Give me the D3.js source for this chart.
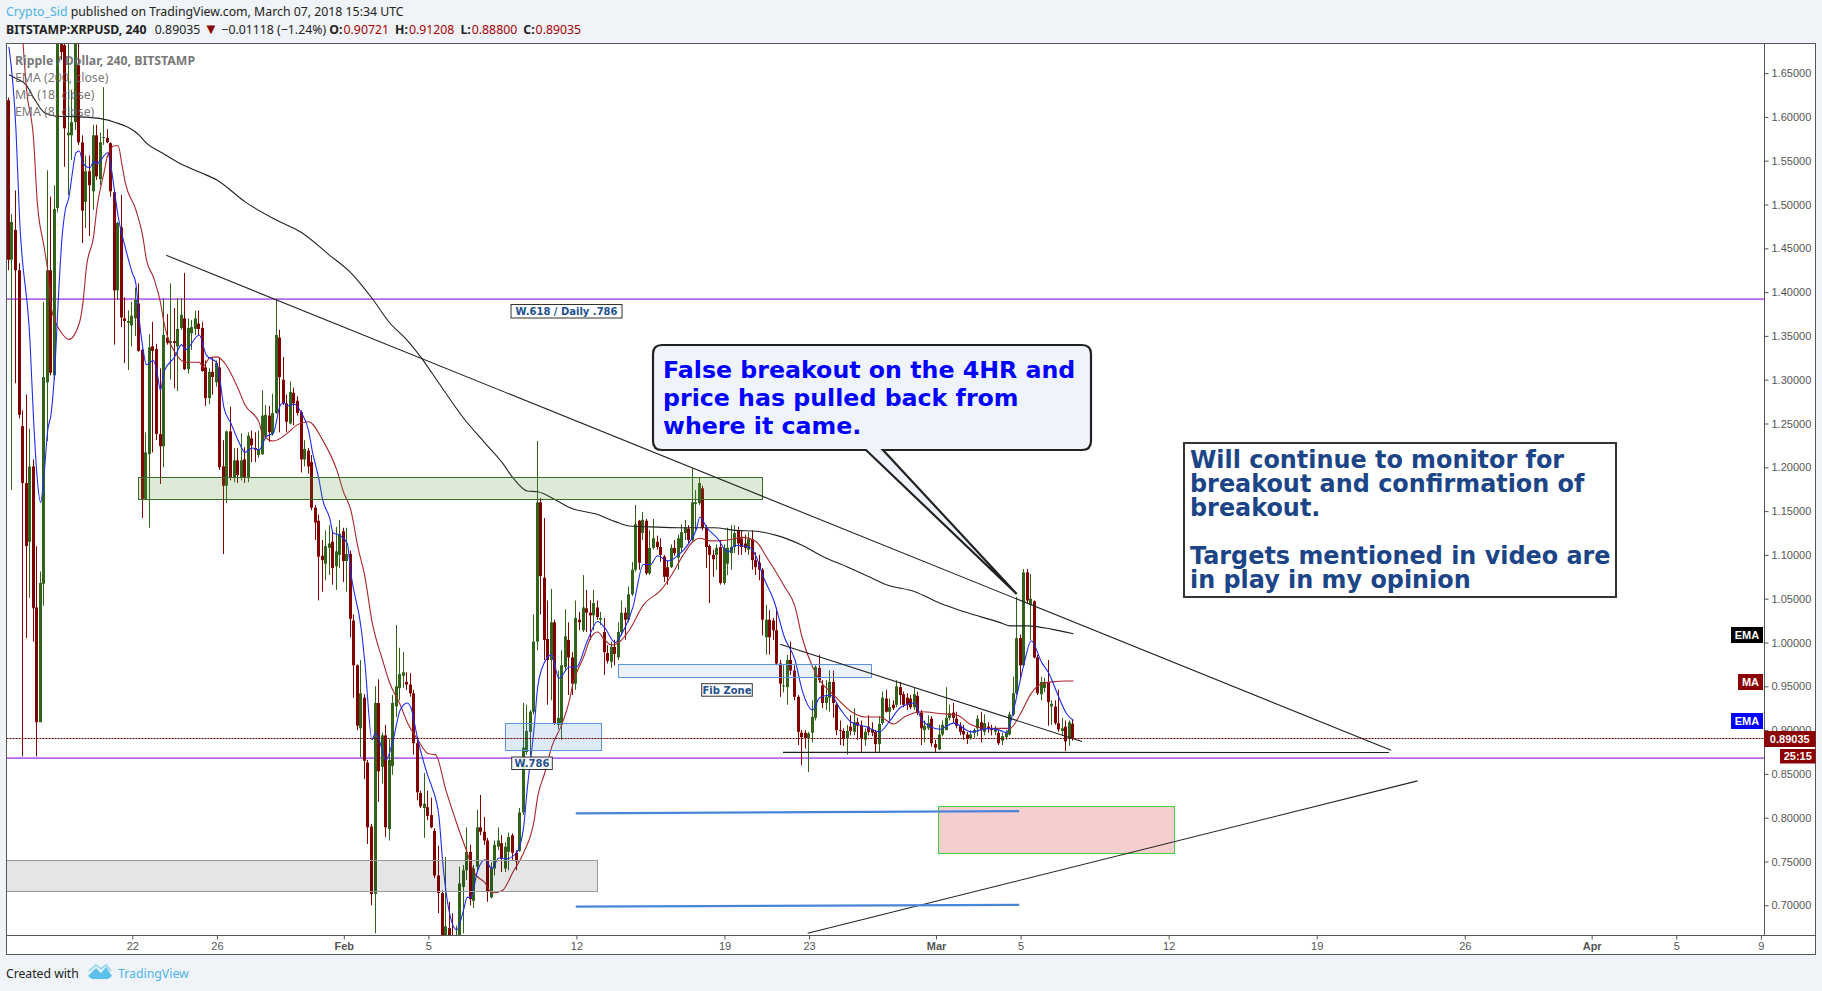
<!DOCTYPE html>
<html><head><meta charset="utf-8">
<script src="https://cdn.jsdelivr.net/npm/d3@7/dist/d3.min.js"></script>
<style>
html,body{margin:0;padding:0;background:#f0f3f7;overflow:hidden}
svg{display:block}
</style></head><body>
<svg id="c" width="1822" height="991"></svg>
<script>
// ---- candle data, 4h bars from 2018-01-16 04:00 UTC ----
const firstBar = Date.UTC(2018,0,16,4);
const opens = [
1.619,1.437,1.471,1.425,1.247,1.182,1.115,1.201,1.040,0.909,
1.067,1.297,1.425,1.305,1.496,1.711,1.682,1.579,1.579,1.594,
1.659,1.571,1.503,1.538,1.515,1.579,1.529,1.576,1.576,1.570,
1.514,1.402,1.474,1.370,1.365,1.362,1.370,1.387,1.334,1.164,
1.215,1.338,1.335,1.238,1.224,1.348,1.342,1.344,1.338,1.359,
1.370,1.312,1.353,1.358,1.364,1.359,1.314,1.279,1.309,1.297,
1.314,1.201,1.179,1.241,1.188,1.208,1.188,1.209,1.189,1.233,
1.222,1.214,1.215,1.236,1.259,1.238,1.262,1.348,1.300,1.273,
1.250,1.285,1.276,1.263,1.209,1.219,1.206,1.154,1.139,1.099,
1.090,1.108,1.115,1.087,1.100,1.127,1.093,1.101,1.025,0.974,
0.902,0.937,0.863,0.790,0.713,0.931,0.858,0.894,0.787,0.859,
0.927,0.948,0.962,0.955,0.952,0.942,0.885,0.828,0.811,0.812,
0.803,0.785,0.734,0.714,0.660,0.674,0.663,0.649,0.649,0.721,
0.740,0.761,0.705,0.744,0.789,0.784,0.774,0.709,0.742,0.767,
0.771,0.742,0.761,0.780,0.760,0.762,0.806,0.875,0.898,0.921,
1.001,1.160,1.074,1.004,0.980,1.023,0.906,0.906,0.972,1.003,
0.983,0.953,1.026,1.014,1.039,1.034,1.031,1.040,1.026,1.012,
0.988,0.978,0.995,0.983,1.012,1.034,1.026,1.055,1.083,1.139,
1.125,1.139,1.079,1.108,1.115,1.109,1.098,1.086,1.086,1.108,
1.097,1.108,1.125,1.130,1.117,1.158,1.159,1.176,1.131,1.110,
1.100,1.100,1.109,1.068,1.090,1.102,1.109,1.128,1.119,1.113,
1.106,1.118,1.094,1.091,1.083,1.006,1.026,1.025,1.014,0.976,
0.950,0.949,0.980,0.968,0.938,0.897,0.897,0.891,0.897,0.914,
0.971,0.951,0.931,0.937,0.955,0.929,0.900,0.899,0.891,0.904,
0.898,0.909,0.905,0.889,0.904,0.901,0.898,0.884,0.908,0.936,
0.921,0.929,0.929,0.949,0.941,0.937,0.936,0.926,0.939,0.920,
0.900,0.902,0.913,0.884,0.878,0.895,0.900,0.914,0.920,0.913,
0.905,0.899,0.895,0.891,0.897,0.902,0.909,0.898,0.904,0.902,
0.898,0.897,0.888,0.892,0.895,0.918,0.942,1.005,0.974,1.080,
1.043,1.047,0.983,0.941,0.948,0.955,0.927,0.927,0.908,0.899,
0.904,0.890,0.90721];
const highs = [
1.622,1.489,1.516,1.433,1.265,1.283,1.244,1.209,1.110,1.081,
1.389,1.539,1.509,1.522,1.733,1.733,1.711,1.699,1.631,1.722,
1.699,1.579,1.556,1.556,1.591,1.591,1.582,1.634,1.586,1.571,
1.516,1.480,1.511,1.394,1.379,1.389,1.405,1.410,1.335,1.240,
1.352,1.366,1.341,1.313,1.393,1.375,1.410,1.382,1.393,1.393,
1.422,1.370,1.368,1.379,1.379,1.366,1.322,1.313,1.325,1.322,
1.325,1.231,1.242,1.269,1.222,1.222,1.239,1.223,1.240,1.242,
1.240,1.242,1.288,1.271,1.270,1.284,1.391,1.357,1.326,1.283,
1.298,1.291,1.281,1.265,1.231,1.222,1.214,1.157,1.146,1.117,
1.128,1.134,1.128,1.132,1.140,1.131,1.131,1.105,1.032,0.975,
0.980,0.941,0.866,0.793,0.950,0.958,0.897,0.906,0.890,0.940,
1.020,0.994,0.989,0.966,0.965,0.946,0.889,0.831,0.851,0.831,
0.823,0.788,0.768,0.717,0.755,0.704,0.691,0.677,0.744,0.746,
0.789,0.769,0.746,0.809,0.826,0.801,0.777,0.749,0.774,0.789,
0.780,0.772,0.783,0.782,0.763,0.811,0.931,0.929,0.923,1.032,
1.230,1.165,1.142,1.048,1.061,1.026,0.968,0.991,1.038,1.023,
0.989,1.048,1.035,1.077,1.060,1.048,1.060,1.048,1.035,1.028,
0.997,1.001,1.003,1.023,1.048,1.040,1.064,1.092,1.157,1.140,
1.149,1.141,1.128,1.141,1.122,1.119,1.100,1.094,1.112,1.117,
1.123,1.135,1.140,1.134,1.199,1.174,1.188,1.179,1.134,1.112,
1.106,1.112,1.117,1.112,1.131,1.134,1.134,1.132,1.128,1.123,
1.126,1.128,1.103,1.100,1.085,1.043,1.037,1.028,1.040,0.980,
0.974,0.986,1.001,0.974,0.940,0.900,0.900,0.898,0.934,0.974,
0.986,0.957,0.957,0.968,0.968,0.931,0.911,0.902,0.906,0.917,
0.925,0.914,0.911,0.902,0.917,0.909,0.900,0.916,0.944,0.946,
0.936,0.934,0.957,0.955,0.944,0.942,0.940,0.948,0.944,0.923,
0.911,0.917,0.916,0.889,0.906,0.911,0.949,0.929,0.931,0.921,
0.909,0.906,0.898,0.900,0.902,0.917,0.921,0.918,0.909,0.906,
0.905,0.900,0.897,0.900,0.921,0.961,1.052,1.009,1.084,1.084,
1.078,1.048,0.986,0.961,0.960,0.980,0.934,0.934,0.946,0.914,
0.911,0.911,0.91208];
const lows = [
1.425,1.174,1.296,1.256,0.870,1.005,1.051,1.001,0.870,0.909,
1.042,1.230,1.305,1.300,1.491,1.665,1.543,1.511,1.551,1.585,
1.568,1.456,1.473,1.464,1.494,1.528,1.522,1.568,1.570,1.509,
1.340,1.391,1.360,1.319,1.311,1.338,1.350,1.332,1.142,1.163,
1.131,1.217,1.231,1.181,1.200,1.340,1.300,1.290,1.287,1.357,
1.311,1.307,1.334,1.351,1.351,1.309,1.270,1.272,1.283,1.292,
1.197,1.101,1.159,1.185,1.183,1.182,1.185,1.182,1.183,1.206,
1.206,1.211,1.214,1.233,1.229,1.236,1.261,1.240,1.271,1.240,
1.249,1.248,1.259,1.194,1.201,1.193,1.151,1.117,1.048,1.058,
1.071,1.077,1.066,1.060,1.085,1.069,1.058,1.006,0.937,0.900,
0.869,0.844,0.770,0.700,0.668,0.818,0.839,0.778,0.774,0.849,
0.915,0.934,0.948,0.946,0.938,0.872,0.820,0.811,0.777,0.797,
0.788,0.731,0.691,0.643,0.655,0.651,0.643,0.643,0.643,0.668,
0.729,0.700,0.697,0.740,0.780,0.769,0.704,0.708,0.734,0.763,
0.738,0.738,0.740,0.752,0.740,0.761,0.803,0.872,0.870,0.918,
0.991,1.032,0.980,0.929,0.934,0.906,0.901,0.889,0.968,0.940,
0.940,0.946,1.014,1.012,1.012,1.003,1.014,1.026,1.020,0.963,
0.976,0.971,0.974,0.980,1.008,1.003,1.023,1.053,1.081,1.083,
1.117,1.077,1.077,1.106,1.106,1.092,1.069,1.066,1.085,1.099,
1.083,1.103,1.117,1.112,1.115,1.128,1.157,1.128,1.085,1.045,
1.075,1.083,1.066,1.066,1.077,1.083,1.102,1.100,1.100,1.103,
1.100,1.083,1.077,1.071,1.008,0.986,0.986,1.003,0.974,0.938,
0.943,0.929,0.963,0.934,0.883,0.860,0.879,0.852,0.886,0.911,
0.954,0.925,0.923,0.921,0.914,0.894,0.883,0.882,0.872,0.894,
0.894,0.889,0.875,0.882,0.894,0.893,0.875,0.875,0.906,0.920,
0.911,0.923,0.926,0.929,0.926,0.923,0.924,0.923,0.917,0.883,
0.886,0.900,0.881,0.875,0.877,0.893,0.900,0.911,0.908,0.902,
0.894,0.889,0.884,0.889,0.891,0.893,0.886,0.894,0.897,0.894,
0.894,0.883,0.883,0.889,0.894,0.916,0.940,0.957,0.973,1.045,
1.003,0.982,0.940,0.934,0.943,0.905,0.906,0.906,0.898,0.894,
0.876,0.882,0.888];
const closes = [
1.437,1.480,1.425,1.260,1.182,1.110,1.201,1.039,0.909,1.068,
1.303,1.425,1.308,1.495,1.711,1.674,1.587,1.582,1.594,1.699,
1.571,1.493,1.538,1.522,1.579,1.532,1.571,1.577,1.571,1.515,
1.402,1.479,1.371,1.367,1.367,1.373,1.391,1.333,1.164,1.217,
1.337,1.333,1.238,1.224,1.351,1.342,1.344,1.342,1.358,1.374,
1.312,1.359,1.360,1.370,1.358,1.310,1.279,1.309,1.303,1.319,
1.200,1.179,1.241,1.189,1.208,1.191,1.208,1.189,1.236,1.225,
1.220,1.220,1.259,1.260,1.240,1.262,1.351,1.303,1.273,1.252,
1.286,1.273,1.262,1.209,1.221,1.201,1.154,1.137,1.098,1.094,
1.110,1.113,1.085,1.104,1.124,1.093,1.101,1.027,0.974,0.905,
0.942,0.865,0.789,0.713,0.931,0.853,0.894,0.789,0.866,0.931,
0.950,0.964,0.966,0.952,0.942,0.885,0.829,0.813,0.816,0.802,
0.789,0.734,0.714,0.649,0.676,0.655,0.649,0.660,0.725,0.740,
0.761,0.707,0.742,0.789,0.784,0.774,0.715,0.742,0.769,0.774,
0.753,0.767,0.778,0.760,0.750,0.806,0.880,0.899,0.921,1.001,
1.160,1.076,1.003,0.980,1.023,0.908,0.914,0.974,1.007,0.983,
0.953,1.028,1.023,1.040,1.034,1.031,1.045,1.029,1.028,0.989,
0.979,0.995,0.987,1.012,1.034,1.026,1.055,1.083,1.135,1.091,
1.140,1.079,1.108,1.119,1.109,1.100,1.075,1.075,1.108,1.102,
1.119,1.126,1.131,1.117,1.160,1.160,1.182,1.131,1.109,1.100,
1.095,1.108,1.068,1.108,1.108,1.109,1.125,1.113,1.109,1.108,
1.118,1.094,1.086,1.083,1.026,1.026,1.006,1.014,0.976,0.953,
0.951,0.980,0.968,0.938,0.898,0.892,0.891,0.896,0.915,0.972,
0.957,0.931,0.938,0.955,0.931,0.900,0.899,0.890,0.899,0.899,
0.909,0.905,0.891,0.898,0.898,0.897,0.884,0.907,0.937,0.921,
0.926,0.925,0.950,0.940,0.929,0.929,0.926,0.941,0.920,0.902,
0.905,0.908,0.885,0.880,0.895,0.906,0.914,0.919,0.914,0.905,
0.898,0.895,0.890,0.895,0.900,0.913,0.900,0.908,0.901,0.900,
0.902,0.885,0.893,0.897,0.918,0.942,1.005,0.974,1.080,1.048,
1.050,0.983,0.942,0.955,0.955,0.932,0.930,0.908,0.901,0.902,
0.887,0.909,0.89035];

// ---- study lines: bar index + value ----
const ema200Bars=[0,2,5,7,10,13,20,26,30,37,39,43,48,54,59,67,76,83,91,97,103,108,113,117,122,129,135,140,143,147,150,155,159,167,172,176,182,190,200,206,212,218,225,231,238,244,249,257,264,271,281,284,289,296,302];
const ema200Vals=[1.648,1.644,1.636,1.622,1.605,1.601,1.600,1.598,1.594,1.579,1.570,1.560,1.548,1.537,1.528,1.503,1.482,1.468,1.442,1.422,1.393,1.365,1.345,1.325,1.296,1.256,1.228,1.205,1.188,1.173,1.172,1.163,1.154,1.146,1.138,1.133,1.132,1.131,1.131,1.128,1.127,1.122,1.111,1.098,1.086,1.075,1.066,1.058,1.045,1.035,1.023,1.019,1.019,1.015,1.010];
const ma18Bars=[4,5,7,8,10,11,12,13,15,17,20,21,22,24,25,27,28,30,31,32,33,36,38,39,41,43,44,45,47,50,54,55,57,59,61,65,67,71,72,75,77,79,82,85,89,93,95,97,99,101,103,106,108,111,113,116,119,121,124,127,130,132,135,137,140,143,146,149,150,152,154,157,159,160,163,165,167,169,171,173,176,180,185,188,191,194,196,199,204,208,212,215,220,223,225,228,230,234,239,243,247,251,254,259,264,269,273,277,281,284,287,290,293,296,300,302];
const ma18Vals=[1.684,1.631,1.574,1.505,1.451,1.425,1.383,1.368,1.353,1.346,1.365,1.388,1.429,1.463,1.497,1.537,1.556,1.567,1.567,1.547,1.525,1.494,1.463,1.437,1.417,1.388,1.365,1.349,1.332,1.320,1.320,1.315,1.325,1.326,1.320,1.290,1.271,1.251,1.237,1.230,1.233,1.239,1.249,1.252,1.231,1.197,1.171,1.151,1.109,1.075,1.024,0.980,0.954,0.929,0.909,0.889,0.873,0.872,0.831,0.794,0.760,0.737,0.726,0.714,0.717,0.738,0.760,0.797,0.824,0.851,0.881,0.908,0.934,0.953,0.983,1.005,1.012,1.003,0.997,1.000,1.014,1.043,1.060,1.077,1.098,1.115,1.119,1.116,1.117,1.120,1.115,1.097,1.064,1.041,1.006,0.972,0.957,0.940,0.921,0.915,0.915,0.907,0.915,0.921,0.919,0.917,0.906,0.902,0.902,0.902,0.919,0.942,0.953,0.955,0.956,0.956];
const ema8Bars=[0,2,3,6,7,8,9,10,11,12,13,14,15,16,17,18,19,20,21,23,24,25,28,29,30,31,33,35,36,37,38,39,41,42,43,44,47,49,50,54,56,59,60,61,63,65,67,69,71,73,75,77,78,79,81,83,85,86,88,89,91,92,94,96,97,100,101,103,104,105,107,109,111,113,114,116,119,120,122,123,125,127,129,130,131,133,135,137,139,141,144,146,147,149,150,151,154,156,159,161,164,167,169,172,174,177,180,182,184,187,190,193,195,196,198,201,204,206,210,212,214,217,220,223,225,228,230,233,236,239,243,247,250,253,257,259,264,268,273,278,281,283,285,288,290,293,295,298,300,302];
const ema8Vals=[1.680,1.585,1.486,1.342,1.254,1.189,1.160,1.193,1.242,1.262,1.311,1.391,1.459,1.494,1.508,1.536,1.559,1.561,1.547,1.542,1.549,1.547,1.559,1.542,1.514,1.486,1.451,1.422,1.410,1.368,1.336,1.317,1.322,1.309,1.288,1.309,1.326,1.340,1.334,1.351,1.328,1.319,1.296,1.268,1.250,1.231,1.217,1.222,1.220,1.235,1.239,1.271,1.274,1.270,1.272,1.262,1.242,1.220,1.185,1.163,1.142,1.125,1.122,1.113,1.079,1.014,0.976,0.889,0.897,0.889,0.866,0.889,0.923,0.931,0.926,0.889,0.846,0.835,0.801,0.752,0.691,0.672,0.695,0.709,0.709,0.740,0.752,0.742,0.754,0.753,0.760,0.789,0.831,0.903,0.949,0.968,0.986,0.959,0.972,0.972,1.001,1.024,1.017,1.000,1.011,1.040,1.089,1.089,1.099,1.093,1.100,1.114,1.129,1.143,1.131,1.119,1.103,1.111,1.109,1.098,1.075,1.048,1.006,0.980,0.946,0.923,0.937,0.940,0.923,0.909,0.904,0.898,0.911,0.926,0.931,0.911,0.901,0.908,0.898,0.902,0.900,0.897,0.923,0.976,1.002,0.977,0.965,0.936,0.919,0.911];

// ---- axes ----
const priceTicks=[1.65,1.60,1.55,1.50,1.45,1.40,1.35,1.30,1.25,1.20,1.15,1.10,1.05,1.00,0.95,0.90,0.85,0.80,0.75,0.70];
const dateTicks=["2018-01-22","2018-01-26","2018-02-01","2018-02-05","2018-02-12","2018-02-19","2018-02-23","2018-03-01","2018-03-05","2018-03-12","2018-03-19","2018-03-26","2018-04-01","2018-04-05","2018-04-09"];
const lastPrice=0.89035;

// ---- drawings in [bar, price] ----
const trendLines=[
 [[44.6,1.442],[392.1,0.877]],
 [[219.6,0.8746],[391.5,0.8744]],
 [[218.8,0.998],[304.4,0.887]],
 [[226.6,0.668],[399.6,0.842]]];
const blueLines=[[[160.8,0.805],[286.6,0.8075]],[[160.8,0.6985],[286.6,0.7005]]];
const purpleLevels=[1.392,0.868];
const zones=[
 {b:[36.7,213.7],p:[1.1886,1.1635],fill:"rgba(88,150,60,.2)",stroke:"#3d6b2a"},
 {b:[140.8,167.9],p:[0.9078,0.8765],fill:"rgba(80,140,220,.18)",stroke:"#5a96e0"},
 {b:[172.9,244.8],p:[0.9751,0.9598],fill:"rgba(80,140,220,.11)",stroke:"#5a96e0"},
 {b:[-5,166.8],p:[0.7518,0.7167],fill:"rgba(0,0,0,.1)",stroke:"#9a9a9a"},
 {b:[263.6,330.5],p:[0.8134,0.7598],fill:"#f5cfcf",stroke:"#3fcf3f"}];

// ---- layout ----
const L=6.5,R=1764.5,T=43.5,B=935.5,FB=954.5,FR=1815.5;
const BG="#f0f3f7",UP="#31641a",DN="#800000",AX="#555",MONO="'Liberation Sans',Arial,sans-serif",HUI="'Noto Sans',sans-serif",VB="'DejaVu Sans',sans-serif";

const svg=d3.select("#c");
const x=d3.scaleUtc().domain([new Date("2018-01-22"),new Date("2018-04-09")]).range([132.3,1760.85]);
const y=d3.scaleLinear().domain([0.70,1.65]).range([905.3,73.1]);
const barDate=i=>new Date(firstBar+i*4*3600e3);
const bx=i=>x(barDate(i));
const col=i=>Math.floor(bx(i)-0.5);

svg.append("rect").attr("x",L).attr("y",T).attr("width",FR-L).attr("height",FB-T).attr("fill","#fff");
svg.append("defs").append("clipPath").attr("id","plot").append("rect").attr("x",L).attr("y",T).attr("width",R-L).attr("height",B-T);
const plot=svg.append("g").attr("clip-path","url(#plot)");

const legend=[["Ripple / Dollar, 240, BITSTAMP",60,700],["EMA (200, close)",77.5,400],["MA (18, close)",94.5,400],["EMA (8, close)",111.5,400]];

// purple levels under candles
plot.selectAll(".lvl").data(purpleLevels).join("line")
 .attr("x1",L).attr("x2",R).attr("y1",d=>y(d)).attr("y2",d=>y(d))
 .attr("stroke","#b869ea").attr("stroke-width",1.6);

// candles
const idx=d3.range(opens.length);
const g=plot.append("g");
g.selectAll(".w").data(idx).join("line")
 .attr("x1",i=>col(i)+.5).attr("x2",i=>col(i)+.5)
 .attr("y1",i=>y(highs[i])).attr("y2",i=>y(lows[i]))
 .attr("stroke",i=>closes[i]>=opens[i]?UP:DN).attr("stroke-width",1);
g.selectAll(".b").data(idx).join("rect")
 .attr("x",i=>col(i)-1).attr("width",3)
 .attr("y",i=>y(Math.max(opens[i],closes[i])))
 .attr("height",i=>Math.max(1,Math.abs(y(opens[i])-y(closes[i]))))
 .attr("fill",i=>closes[i]>=opens[i]?UP:DN);

// study lines
function study(bars,vals,color,w){
 plot.append("path").attr("fill","none").attr("stroke",color).attr("stroke-width",w)
  .attr("d",d3.line().x((d,i)=>bx(bars[i])).y(d=>y(d)).curve(d3.curveMonotoneX)(vals));
}
study(ema200Bars,ema200Vals,"#222",1.1);
study(ma18Bars,ma18Vals,"#a8262a",1.1);
study(ema8Bars,ema8Vals,"#1f2cf0",1.1);

// zones
plot.selectAll(".z").data(zones).join("rect")
 .attr("x",d=>Math.round(bx(d.b[0]))+.5).attr("width",d=>Math.round(bx(d.b[1])-bx(d.b[0])))
 .attr("y",d=>Math.round(y(d.p[0]))+.5).attr("height",d=>Math.round(y(d.p[1])-y(d.p[0])))
 .attr("fill",d=>d.fill).attr("stroke",d=>d.stroke).attr("stroke-width",1);

// trend lines
const seg=d3.line().x(d=>bx(d[0])).y(d=>y(d[1]));
plot.selectAll(".t").data(trendLines).join("path").attr("d",seg).attr("fill","none").attr("stroke","#222").attr("stroke-width",1.1);
plot.selectAll(".bl").data(blueLines).join("path").attr("d",seg).attr("fill","none").attr("stroke","#4a86d8").attr("stroke-width",2.2);

// last price dotted line
plot.append("line").attr("x1",L).attr("x2",R).attr("y1",Math.floor(y(lastPrice))+.5).attr("y2",Math.floor(y(lastPrice))+.5)
 .attr("stroke","#6a0000").attr("stroke-width",1).attr("stroke-dasharray","2 1");

// legend text
svg.selectAll(".lg").data(legend).join("text").attr("x",15).attr("y",d=>d[1]+4.5)
 .attr("font-family",HUI).attr("font-size",12.3).attr("font-weight",d=>d[2]).attr("fill","#666").attr("fill-opacity",.9).text(d=>d[0]);

// small labelled boxes
const tags=[["W.618 / Daily .786",511,304.5,111,13.5],["Fib Zone",701.7,683.7,50.6,12.5],["W.786",511.7,757,40.6,12.5]];
tags.forEach(t=>{
 svg.append("rect").attr("x",t[1]).attr("y",t[2]).attr("width",t[3]).attr("height",t[4]).attr("fill","#fff").attr("fill-opacity",.82).attr("stroke","#333").attr("stroke-width",1);
 svg.append("text").attr("x",t[1]+t[3]/2).attr("y",t[2]+t[4]/2+3.6).attr("text-anchor","middle").attr("font-family",VB).attr("font-weight",700).attr("font-size",10).attr("fill","#24528f").text(t[0]);
});

// callout
const cb={x:653,y:345,w:438,h:105,r:9};
const tipX=1016.7,tipY=594,t1=866,t2=883;
svg.append("path").attr("d",
 `M${cb.x+cb.r},${cb.y}H${cb.x+cb.w-cb.r}Q${cb.x+cb.w},${cb.y} ${cb.x+cb.w},${cb.y+cb.r}V${cb.y+cb.h-cb.r}Q${cb.x+cb.w},${cb.y+cb.h} ${cb.x+cb.w-cb.r},${cb.y+cb.h}H${t2}L${tipX},${tipY}L${t1},${cb.y+cb.h}H${cb.x+cb.r}Q${cb.x},${cb.y+cb.h} ${cb.x},${cb.y+cb.h-cb.r}V${cb.y+cb.r}Q${cb.x},${cb.y} ${cb.x+cb.r},${cb.y}Z`)
 .attr("fill","#eef3fc").attr("stroke","#222").attr("stroke-width",2.2);
["False breakout on the 4HR and","price has pulled back from","where it came."].forEach((s,i)=>{
 svg.append("text").attr("x",663).attr("y",377.5+i*28).attr("font-family",VB).attr("font-weight",700).attr("font-size",23.7).attr("fill","#0000ff").text(s);
});

// note box
svg.append("rect").attr("x",1184).attr("y",443).attr("width",432).attr("height",154).attr("fill","#fff").attr("stroke","#333").attr("stroke-width",2);
[["Will continue to monitor for",0],["breakout and confirmation of",1],["breakout.",2],["Targets mentioned in video are",4],["in play in my opinion",5]].forEach(d=>{
 svg.append("text").attr("x",1190).attr("y",468+d[1]*24).attr("font-family",VB).attr("font-weight",700).attr("font-size",23.9).attr("fill","#1c4587").text(d[0]);
});

// axes
const ya=svg.append("g").attr("transform",`translate(${R},0)`).call(d3.axisRight(y).tickValues(priceTicks).tickSize(4).tickPadding(3).tickFormat(d=>d.toFixed(5)));
const xa=svg.append("g").attr("transform",`translate(0,${B})`).call(d3.axisBottom(x).tickValues(dateTicks.map(d=>new Date(d))).tickSize(4).tickPadding(3).tickFormat(d=>{
  const day=d.getUTCDate(); return day===1?d3.utcFormat("%b")(d):day;}));
[ya,xa].forEach(a=>{a.select(".domain").remove();a.selectAll("line").attr("stroke",AX);a.selectAll("text").attr("font-family",MONO).attr("font-size",11).attr("fill","#555");});
xa.selectAll("text").attr("font-weight",d=>d.getUTCDate()===1?700:400);

// frame
svg.append("rect").attr("x",L).attr("y",T).attr("width",FR-L).attr("height",FB-T).attr("fill","none").attr("stroke",AX).attr("stroke-width",1);
svg.append("line").attr("x1",L).attr("x2",FR).attr("y1",B).attr("y2",B).attr("stroke",AX);
svg.append("line").attr("x1",R).attr("x2",R).attr("y1",T).attr("y2",FB-19).attr("stroke",AX);

// right hand labels
const labs=[["EMA",1731,627,32,16,"#000"],["MA",1738,674,25,16,"#8b0000"],["EMA",1731,713,32,16,"#0000ff"],["0.89035",1764,731,51.5,16,"#8b0000"],["25:15",1780,749,35.5,14.5,"#8b0000"]];
labs.forEach(l=>{
 svg.append("rect").attr("x",l[1]).attr("y",l[2]).attr("width",l[3]).attr("height",l[4]).attr("fill",l[5]);
 svg.append("text").attr("x",l[1]+l[3]/2).attr("y",l[2]+l[4]/2+4).attr("text-anchor","middle").attr("font-family",MONO).attr("font-weight",700).attr("font-size",11).attr("fill","#fff").text(l[0]);
});

// header
const h1=svg.append("text").attr("x",6).attr("y",16).attr("font-family",HUI).attr("font-size",12.3).attr("fill","#222");
h1.append("tspan").attr("fill","#4db5e8").text("Crypto_Sid");
h1.append("tspan").text(" published on TradingView.com, March 07, 2018 15:34 UTC");
const h2=svg.append("text").attr("x",6).attr("y",34).attr("font-family",HUI).attr("font-size",12.3).attr("fill","#222").attr("xml:space","preserve");
[["BITSTAMP:XRPUSD, 240",700,"#222",0,12.3],[" 0.89035 ",400,"#222",5,12.3],["▼",400,"#8b0000",0,15],["−0.01118 (−1.24%) ",400,"#222",3,12.3],["O:",700,"#222",0,12.3],["0.90721",400,"#a00",1,12.3],["H:",700,"#222",6,12.3],["0.91208",400,"#a00",1,12.3],["L:",700,"#222",6,12.3],["0.88800",400,"#a00",1,12.3],["C:",700,"#222",6,12.3],["0.89035",400,"#a00",1,12.3]]
 .forEach(s=>h2.append("tspan").attr("font-weight",s[1]).attr("fill",s[2]).attr("dx",s[3]).attr("font-size",s[4]).text(s[0]));

// footer
svg.append("text").attr("x",6).attr("y",977.5).attr("font-family",HUI).attr("font-size",12.2).attr("fill","#222").text("Created with");
svg.append("path").attr("d","M88,976 L96,968 L101,973 L106,967 L112,976 L108,979 L92,979 Z").attr("fill","#5bc0ea");
svg.append("path").attr("d","M89,971 L96,965 L101,969 L106,965 L111,971").attr("fill","none").attr("stroke","#9bd8f2").attr("stroke-width",2);
svg.append("text").attr("x",118).attr("y",977.5).attr("font-family",HUI).attr("font-size",12.3).attr("fill","#4db5e8").text("TradingView");
</script></body></html>
